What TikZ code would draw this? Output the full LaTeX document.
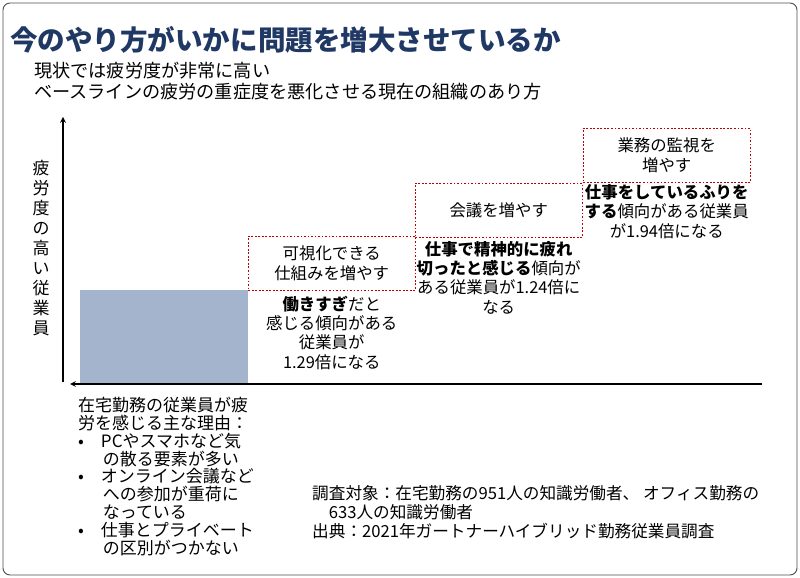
\documentclass[tikz,border=0pt]{standalone}
\usepackage{fontspec}
\setmainfont{Noto Sans CJK JP}
\usetikzlibrary{positioning}
\definecolor{titleblue}{HTML}{1F3864}
\definecolor{barblue}{HTML}{A3B4CC}
\definecolor{boxred}{HTML}{C00000}
\tikzset{
  stepbox/.style={draw=boxred, dashed, dash pattern=on 1.5pt off 1.5pt, minimum width=50.1mm, minimum height=16.2mm, align=center, inner sep=0pt, font=\fontsize{14}{16.5}\selectfont},
  body/.style={font=\fontsize{14}{16.5}\selectfont, align=center, inner sep=0pt},
  lbody/.style={font=\fontsize{14.5}{16.8}\selectfont, align=left, inner sep=0pt}
}
\begin{document}
\begin{tikzpicture}[x=0.3mm,y=-0.3mm]
\useasboundingbox (0,0) rectangle (800,578);
\draw [rounded corners=6pt, draw=black!70, line width=0.8pt] (3,3) rectangle (797,575);

\node [anchor=west, text=titleblue, font=\fontsize{23.5}{26}\bfseries\selectfont, inner sep=0pt] (title) at (10,40) {今のやり方がいかに問題を増大させているか};
\node [anchor=north west, lbody, font=\fontsize{15.5}{17.5}\selectfont] (sub) at (34,62) {現状では疲労度が非常に高い\\ベースラインの疲労の重症度を悪化させる現在の組織のあり方};

% axes
\coordinate (xe) at (70,384);
\coordinate (xs) at (762,384);
\coordinate (ye) at (63,117);
\draw [line width=1.2pt, -stealth] (63,382) -- (ye);
\draw [line width=1.2pt, -stealth] (xs) -- (xe);
\node [lbody, font=\fontsize{14.5}{17}\selectfont, anchor=center] (ylab) at (41,248) {疲\\労\\度\\の\\高\\い\\従\\業\\員};

% bar and boxes
\fill [barblue] (80,290) rectangle (248,383);
\node [stepbox, anchor=north west] (b1) at (248,236) {可視化できる\\仕組みを増やす};
\node [stepbox, anchor=north west] (b2) at (415,183) {会議を増やす};
\node [stepbox, anchor=north west] (b3) at (583,128) {業務の監視を\\増やす};

\node [body, below=1.5mm of b1] (t1) {\textbf{働きすぎ}だと\\感じる傾向がある\\従業員が\\1.29倍になる};
\node [body, below=1mm of b2] (t2) {\textbf{仕事で精神的に疲れ}\\\textbf{切ったと感じる}傾向が\\ある従業員が1.24倍に\\なる};
\node [body, below=0.5mm of b3] (t3) {\textbf{仕事をしているふりを}\\\textbf{する}傾向がある従業員\\が1.94倍になる};

\node [lbody, font=\fontsize{14.5}{15.2}\selectfont, anchor=north west] (reason) at (78,397) {在宅勤務の従業員が疲\\労を感じる主な理由：\\
\textbullet\hspace{1em}PCやスマホなど気\\\hspace{1.45em}の散る要素が多い\\
\textbullet\hspace{1em}オンライン会議など\\\hspace{1.45em}への参加が重荷に\\\hspace{1.45em}なっている\\
\textbullet\hspace{1em}仕事とプライベート\\\hspace{1.45em}の区別がつかない};

\node [lbody, font=\fontsize{14.2}{16.5}\selectfont, anchor=north west] (src) at (312,485) {調査対象：在宅勤務の951人の知識労働者、 オフィス勤務の\\\hspace{1em}633人の知識労働者\\出典：2021年ガートナーハイブリッド勤務従業員調査};
\end{tikzpicture}
\end{document}
